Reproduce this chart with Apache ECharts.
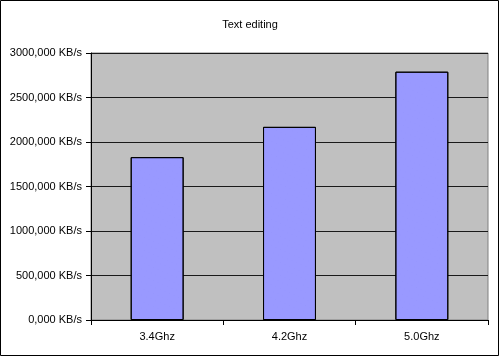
<!DOCTYPE html>
<html>
<head>
<meta charset="utf-8">
<script src="https://cdn.jsdelivr.net/npm/echarts@6/dist/echarts.min.js"></script>
<style>html,body{margin:0;padding:0;background:#fff}#c{width:500px;height:357px}</style>
</head>
<body>
<div id="c"></div>
<script>
const title = 'Text editing';
const categories = ['3.4Ghz', '4.2Ghz', '5.0Ghz'];
const values = [1830, 2170, 2790]; // thousands of KB/s
const yMin = 0, yMax = 3000, yStep = 500;

const chart = echarts.init(document.getElementById('c'), null, {renderer: 'canvas'});
const font = '"Liberation Sans", Arial, sans-serif';
chart.setOption({
  backgroundColor: '#ffffff',
  animation: false,
  title: {
    text: title, left: 'center', top: 14,
    textStyle: {fontFamily: font, fontSize: 11, fontWeight: 'normal', color: '#000'}
  },
  graphic: [{
    type: 'rect', silent: true, z: 100,
    shape: {x: 0.5, y: 0.5, width: 498, height: 355},
    style: {fill: 'none', stroke: '#000', lineWidth: 1}
  }],
  grid: {
    left: 91, top: 53, right: 12, bottom: 37, containLabel: false,
    show: true, backgroundColor: '#c0c0c0', borderColor: '#808080', borderWidth: 1
  },
  xAxis: {
    type: 'category', data: categories, boundaryGap: true,
    axisLine: {lineStyle: {color: '#000', width: 1}},
    axisTick: {show: true, alignWithLabel: false, length: 5, lineStyle: {color: '#000'}},
    axisLabel: {fontFamily: font, fontSize: 11, color: '#000', margin: 11}
  },
  yAxis: {
    type: 'value', min: yMin, max: yMax, interval: yStep,
    axisLine: {show: true, lineStyle: {color: '#000', width: 1}},
    axisTick: {show: true, length: 5, lineStyle: {color: '#000'}},
    axisLabel: {fontFamily: font, fontSize: 11, color: '#000', margin: 9,
      formatter: v => v + ',000 KB/s'},
    splitLine: {show: true, lineStyle: {color: '#1a1a1a', width: 1}}
  },
  series: [{
    type: 'bar', data: values, barWidth: '40%',
    itemStyle: {
      color: '#9999ff', borderColor: '#000', borderWidth: 1,
      decal: {symbol: 'circle', symbolSize: 0.25, color: 'rgba(90,90,200,0.6)',
        dashArrayX: [1, 4], dashArrayY: [1, 5], rotation: 0.4}
    }
  }]
});
</script>
</body>
</html>
